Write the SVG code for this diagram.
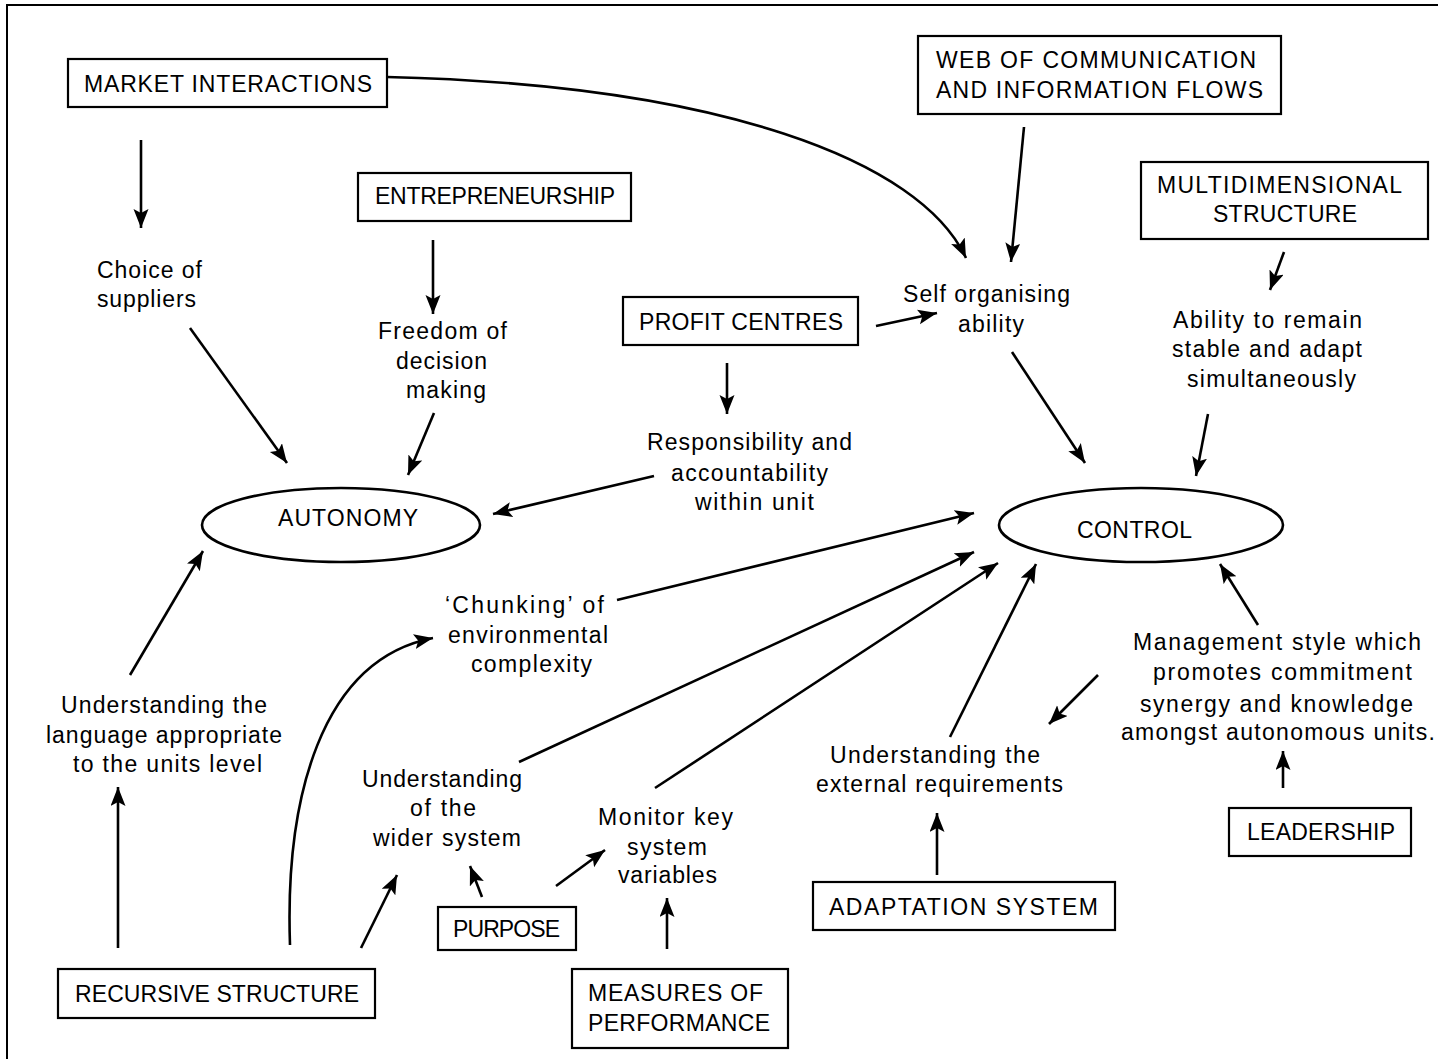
<svg xmlns="http://www.w3.org/2000/svg" width="1438" height="1059" viewBox="0 0 1438 1059">
  <defs>
    <marker id="ah" markerUnits="userSpaceOnUse" markerWidth="20" markerHeight="16" refX="19" refY="7.5" orient="auto">
      <path d="M0,0 L19,7.5 L0,15 L4,7.5 z" fill="#000"/>
    </marker>
    <style>
      text { font-family: "Liberation Sans", Arial, sans-serif; font-size: 23px; fill: #000; }
      .box { fill: #fff; stroke: #000; stroke-width: 2.2; }
      .oval { fill: #fff; stroke: #000; stroke-width: 2.6; }
      .c { fill: none; stroke: #000; stroke-width: 2.6; marker-end: url(#ah); }
      .frame { fill: none; stroke: #000; stroke-width: 2; }
    </style>
  </defs>
  <rect width="1438" height="1059" fill="#fff"/>

  <!-- page frame -->
  <path class="frame" d="M7,1059 L7,5 L1438,5"/>

  <!-- connectors -->
  <g id="connectors">
    <path class="c" d="M387,77 C720,85 920,160 966,258"/>
    <path class="c" d="M141,140 L141,228"/>
    <path class="c" d="M433,240 L433,314"/>
    <path class="c" d="M190,328 L287,463"/>
    <path class="c" d="M434,413 L408,475"/>
    <path class="c" d="M727,363 L727,414"/>
    <path class="c" d="M654,476 L493,514"/>
    <path class="c" d="M876,326 L937,313"/>
    <path class="c" d="M1024,127 L1011,262"/>
    <path class="c" d="M1284,252 L1270,290"/>
    <path class="c" d="M1012,352 L1085,463"/>
    <path class="c" d="M1208,414 L1196,476"/>
    <path class="c" d="M617,600 L974,513"/>
    <path class="c" d="M519,762 L974,552"/>
    <path class="c" d="M655,788 L998,563"/>
    <path class="c" d="M950,737 L1036,564"/>
    <path class="c" d="M1258,625 L1220,564"/>
    <path class="c" d="M1098,675 L1049,724"/>
    <path class="c" d="M1283,788 L1283,751"/>
    <path class="c" d="M937,875 L937,813"/>
    <path class="c" d="M667,949 L667,898"/>
    <path class="c" d="M556,886 L605,850"/>
    <path class="c" d="M482,897 L470,866"/>
    <path class="c" d="M361,948 L397,875"/>
    <path class="c" d="M290,945 C285,800 320,660 433,638"/>
    <path class="c" d="M130,675 L203,551"/>
    <path class="c" d="M118,948 L118,787"/>
  </g>

  <!-- boxed nodes -->
  <g id="market-interactions">
    <rect class="box" x="68" y="59" width="319" height="48"/>
    <text x="84" y="92" textLength="288">MARKET INTERACTIONS</text>
  </g>
  <g id="entrepreneurship">
    <rect class="box" x="358" y="173" width="273" height="48"/>
    <text x="375" y="204" textLength="240">ENTREPRENEURSHIP</text>
  </g>
  <g id="web-of-communication">
    <rect class="box" x="918" y="36" width="363" height="78"/>
    <text x="936" y="68" textLength="320">WEB OF COMMUNICATION</text>
    <text x="936" y="98" textLength="327">AND INFORMATION FLOWS</text>
  </g>
  <g id="multidimensional-structure">
    <rect class="box" x="1141" y="162" width="287" height="77"/>
    <text x="1157" y="193" textLength="245">MULTIDIMENSIONAL</text>
    <text x="1213" y="222" textLength="144">STRUCTURE</text>
  </g>
  <g id="profit-centres">
    <rect class="box" x="623" y="297" width="235" height="48"/>
    <text x="639" y="330" textLength="204">PROFIT CENTRES</text>
  </g>
  <g id="recursive-structure">
    <rect class="box" x="58" y="969" width="317" height="49"/>
    <text x="75" y="1002" textLength="284">RECURSIVE STRUCTURE</text>
  </g>
  <g id="purpose">
    <rect class="box" x="438" y="907" width="138" height="43"/>
    <text x="453" y="937" textLength="107">PURPOSE</text>
  </g>
  <g id="measures-of-performance">
    <rect class="box" x="572" y="969" width="216" height="79"/>
    <text x="588" y="1001" textLength="175">MEASURES OF</text>
    <text x="588" y="1031" textLength="182">PERFORMANCE</text>
  </g>
  <g id="adaptation-system">
    <rect class="box" x="813" y="882" width="302" height="48"/>
    <text x="829" y="915" textLength="269">ADAPTATION SYSTEM</text>
  </g>
  <g id="leadership">
    <rect class="box" x="1229" y="808" width="182" height="48"/>
    <text x="1247" y="840" textLength="148">LEADERSHIP</text>
  </g>

  <!-- central ovals -->
  <g id="autonomy">
    <ellipse class="oval" cx="341" cy="525" rx="139" ry="37"/>
    <text x="278" y="526" textLength="140">AUTONOMY</text>
  </g>
  <g id="control">
    <ellipse class="oval" cx="1141" cy="525" rx="142" ry="37"/>
    <text x="1077" y="538" textLength="115">CONTROL</text>
  </g>

  <!-- free-standing statements -->
  <g id="choice-of-suppliers">
    <text x="97" y="278" textLength="105">Choice of</text>
    <text x="97" y="307" textLength="99">suppliers</text>
  </g>
  <g id="freedom-of-decision">
    <text x="378" y="339" textLength="129">Freedom of</text>
    <text x="396" y="369" textLength="91">decision</text>
    <text x="406" y="398" textLength="80">making</text>
  </g>
  <g id="self-organising">
    <text x="903" y="302" textLength="167">Self organising</text>
    <text x="958" y="332" textLength="66">ability</text>
  </g>
  <g id="stable-and-adapt">
    <text x="1173" y="328" textLength="189">Ability to remain</text>
    <text x="1172" y="357" textLength="190">stable and adapt</text>
    <text x="1187" y="387" textLength="169">simultaneously</text>
  </g>
  <g id="responsibility">
    <text x="647" y="450" textLength="205">Responsibility and</text>
    <text x="671" y="481" textLength="157">accountability</text>
    <text x="695" y="510" textLength="119">within unit</text>
  </g>
  <g id="chunking">
    <text x="445" y="613" textLength="159">‘Chunking’ of</text>
    <text x="448" y="643" textLength="160">environmental</text>
    <text x="471" y="672" textLength="121">complexity</text>
  </g>
  <g id="unit-language">
    <text x="61" y="713" textLength="206">Understanding the</text>
    <text x="46" y="743" textLength="236">language appropriate</text>
    <text x="73" y="772" textLength="189">to the units level</text>
  </g>
  <g id="wider-system">
    <text x="362" y="787" textLength="160">Understanding</text>
    <text x="410" y="816" textLength="66">of the</text>
    <text x="373" y="846" textLength="148">wider system</text>
  </g>
  <g id="monitor-variables">
    <text x="598" y="825" textLength="135">Monitor key</text>
    <text x="627" y="855" textLength="80">system</text>
    <text x="618" y="883" textLength="99">variables</text>
  </g>
  <g id="external-requirements">
    <text x="830" y="763" textLength="210">Understanding the</text>
    <text x="816" y="792" textLength="247">external requirements</text>
  </g>
  <g id="management-style">
    <text x="1133" y="650" textLength="288">Management style which</text>
    <text x="1153" y="680" textLength="259">promotes commitment</text>
    <text x="1140" y="712" textLength="273">synergy and knowledge</text>
    <text x="1121" y="740" textLength="314">amongst autonomous units.</text>
  </g>
</svg>
